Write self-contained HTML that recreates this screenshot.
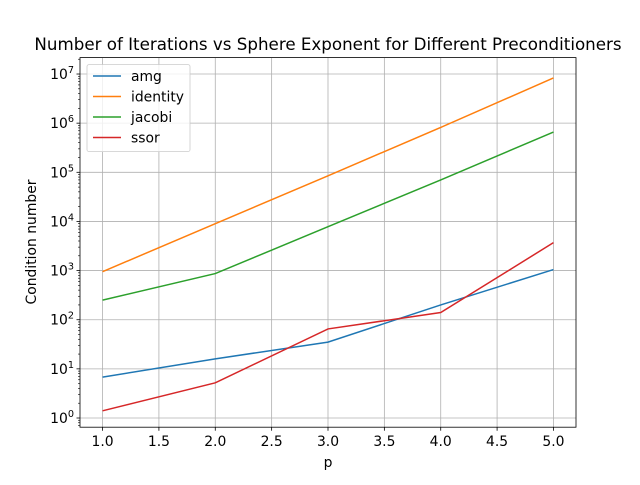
<!DOCTYPE html>
<html><head><meta charset="utf-8"><style>
body{margin:0;background:#fff;}
svg{font-family:"DejaVu Sans","Liberation Sans",sans-serif;}
</style></head><body>
<svg id="chart" width="640" height="480" xmlns="http://www.w3.org/2000/svg"></svg>
<script>
const xValues=[1,2,3,4,5];
const amg=[6.8,16,35,200,1050];
const identity=[950,9000,85000,820000,8300000];
const jacobi=[250,870,7800,70000,660000];
const ssor=[1.4,5.2,65,140,3700];
const xTicks=[1.0,1.5,2.0,2.5,3.0,3.5,4.0,4.5,5.0];
const yTickExps=[0,1,2,3,4,5,6,7];
const seriesNames=["amg","identity","jacobi","ssor"];
const colors=["#1f77b4","#ff7f0e","#2ca02c","#d62728"];

const L=80,R=576,T=57.6,B=427.2;
const y0=418,dec=49.14;
const xs=v=>L+(v-0.8)/4.4*(R-L);
const ys=v=>y0-Math.log10(v)*dec;
const svg=document.getElementById('chart');
const NS="http://www.w3.org/2000/svg";
function mk(tag,attrs,parent){const e=document.createElementNS(NS,tag);for(const k in attrs)e.setAttribute(k,attrs[k]);(parent||svg).appendChild(e);return e;}

xTicks.forEach(t=>{const l=mk('line',{x1:xs(t),x2:xs(t),y1:T,y2:B,stroke:'#b0b0b0','stroke-width':0.8});

});
yTickExps.forEach(e=>{const l=mk('line',{x1:L,x2:R,y1:ys(10**e),y2:ys(10**e),stroke:'#b0b0b0','stroke-width':0.8});

});

const data=[amg,identity,jacobi,ssor];
data.forEach((d,i)=>{const p=mk('polyline',{points:d.map((v,j)=>xs(xValues[j])+','+ys(v)).join(' '),fill:'none',stroke:colors[i],'stroke-width':1.5});

});

const fr=mk('rect',{x:L,y:T,width:R-L,height:B-T,fill:'none',stroke:'#000','stroke-width':0.8});



xTicks.forEach(t=>{mk('line',{x1:xs(t),x2:xs(t),y1:B,y2:B+3.5,stroke:'#000','stroke-width':0.8});
const tx=mk('text',{x:xs(t),y:B+19,'font-size':13.9,'text-anchor':'middle'});tx.textContent=t.toFixed(1);

});
yTickExps.forEach(e=>{const y=ys(10**e);mk('line',{x1:L-3.5,x2:L,y1:y,y2:y,stroke:'#000','stroke-width':0.8});
const tx=mk('text',{x:L-6,y:y+5,'font-size':13.9,'text-anchor':'end'});


tx.innerHTML='10<tspan dy="-6" font-size="9.7">'+e+'</tspan>';});
for(let e=-1;e<=7;e++){for(let m=2;m<10;m++){const v=m*10**e;const y=ys(v);if(y>T&&y<B)mk('line',{x1:L-2,x2:L,y1:y,y2:y,stroke:'#000','stroke-width':0.6});}}

const title=mk('text',{x:328,y:50,'font-size':16.7,'text-anchor':'middle'});title.textContent='Number of Iterations vs Sphere Exponent for Different Preconditioners';


const xl=mk('text',{x:328,y:467,'font-size':13.9,'text-anchor':'middle'});xl.textContent='p';


const yl=mk('text',{x:0,y:0,'font-size':13.9,'text-anchor':'middle',transform:'translate(36,242) rotate(-90)'});yl.textContent='Condition number';



const lg=mk('g',{});


mk('rect',{x:87,y:64.6,width:103,height:87,rx:2,fill:'#fff','fill-opacity':0.8,stroke:'#ccc','stroke-width':0.8},lg);
seriesNames.forEach((n,i)=>{const y=76+i*20.5;
const g=mk('g',{},lg);


mk('line',{x1:93,x2:121,y1:y,y2:y,stroke:colors[i],'stroke-width':1.5},g);
const t=mk('text',{x:131,y:y+5,'font-size':13.9},g);t.textContent=n;});
</script>
</body></html>
